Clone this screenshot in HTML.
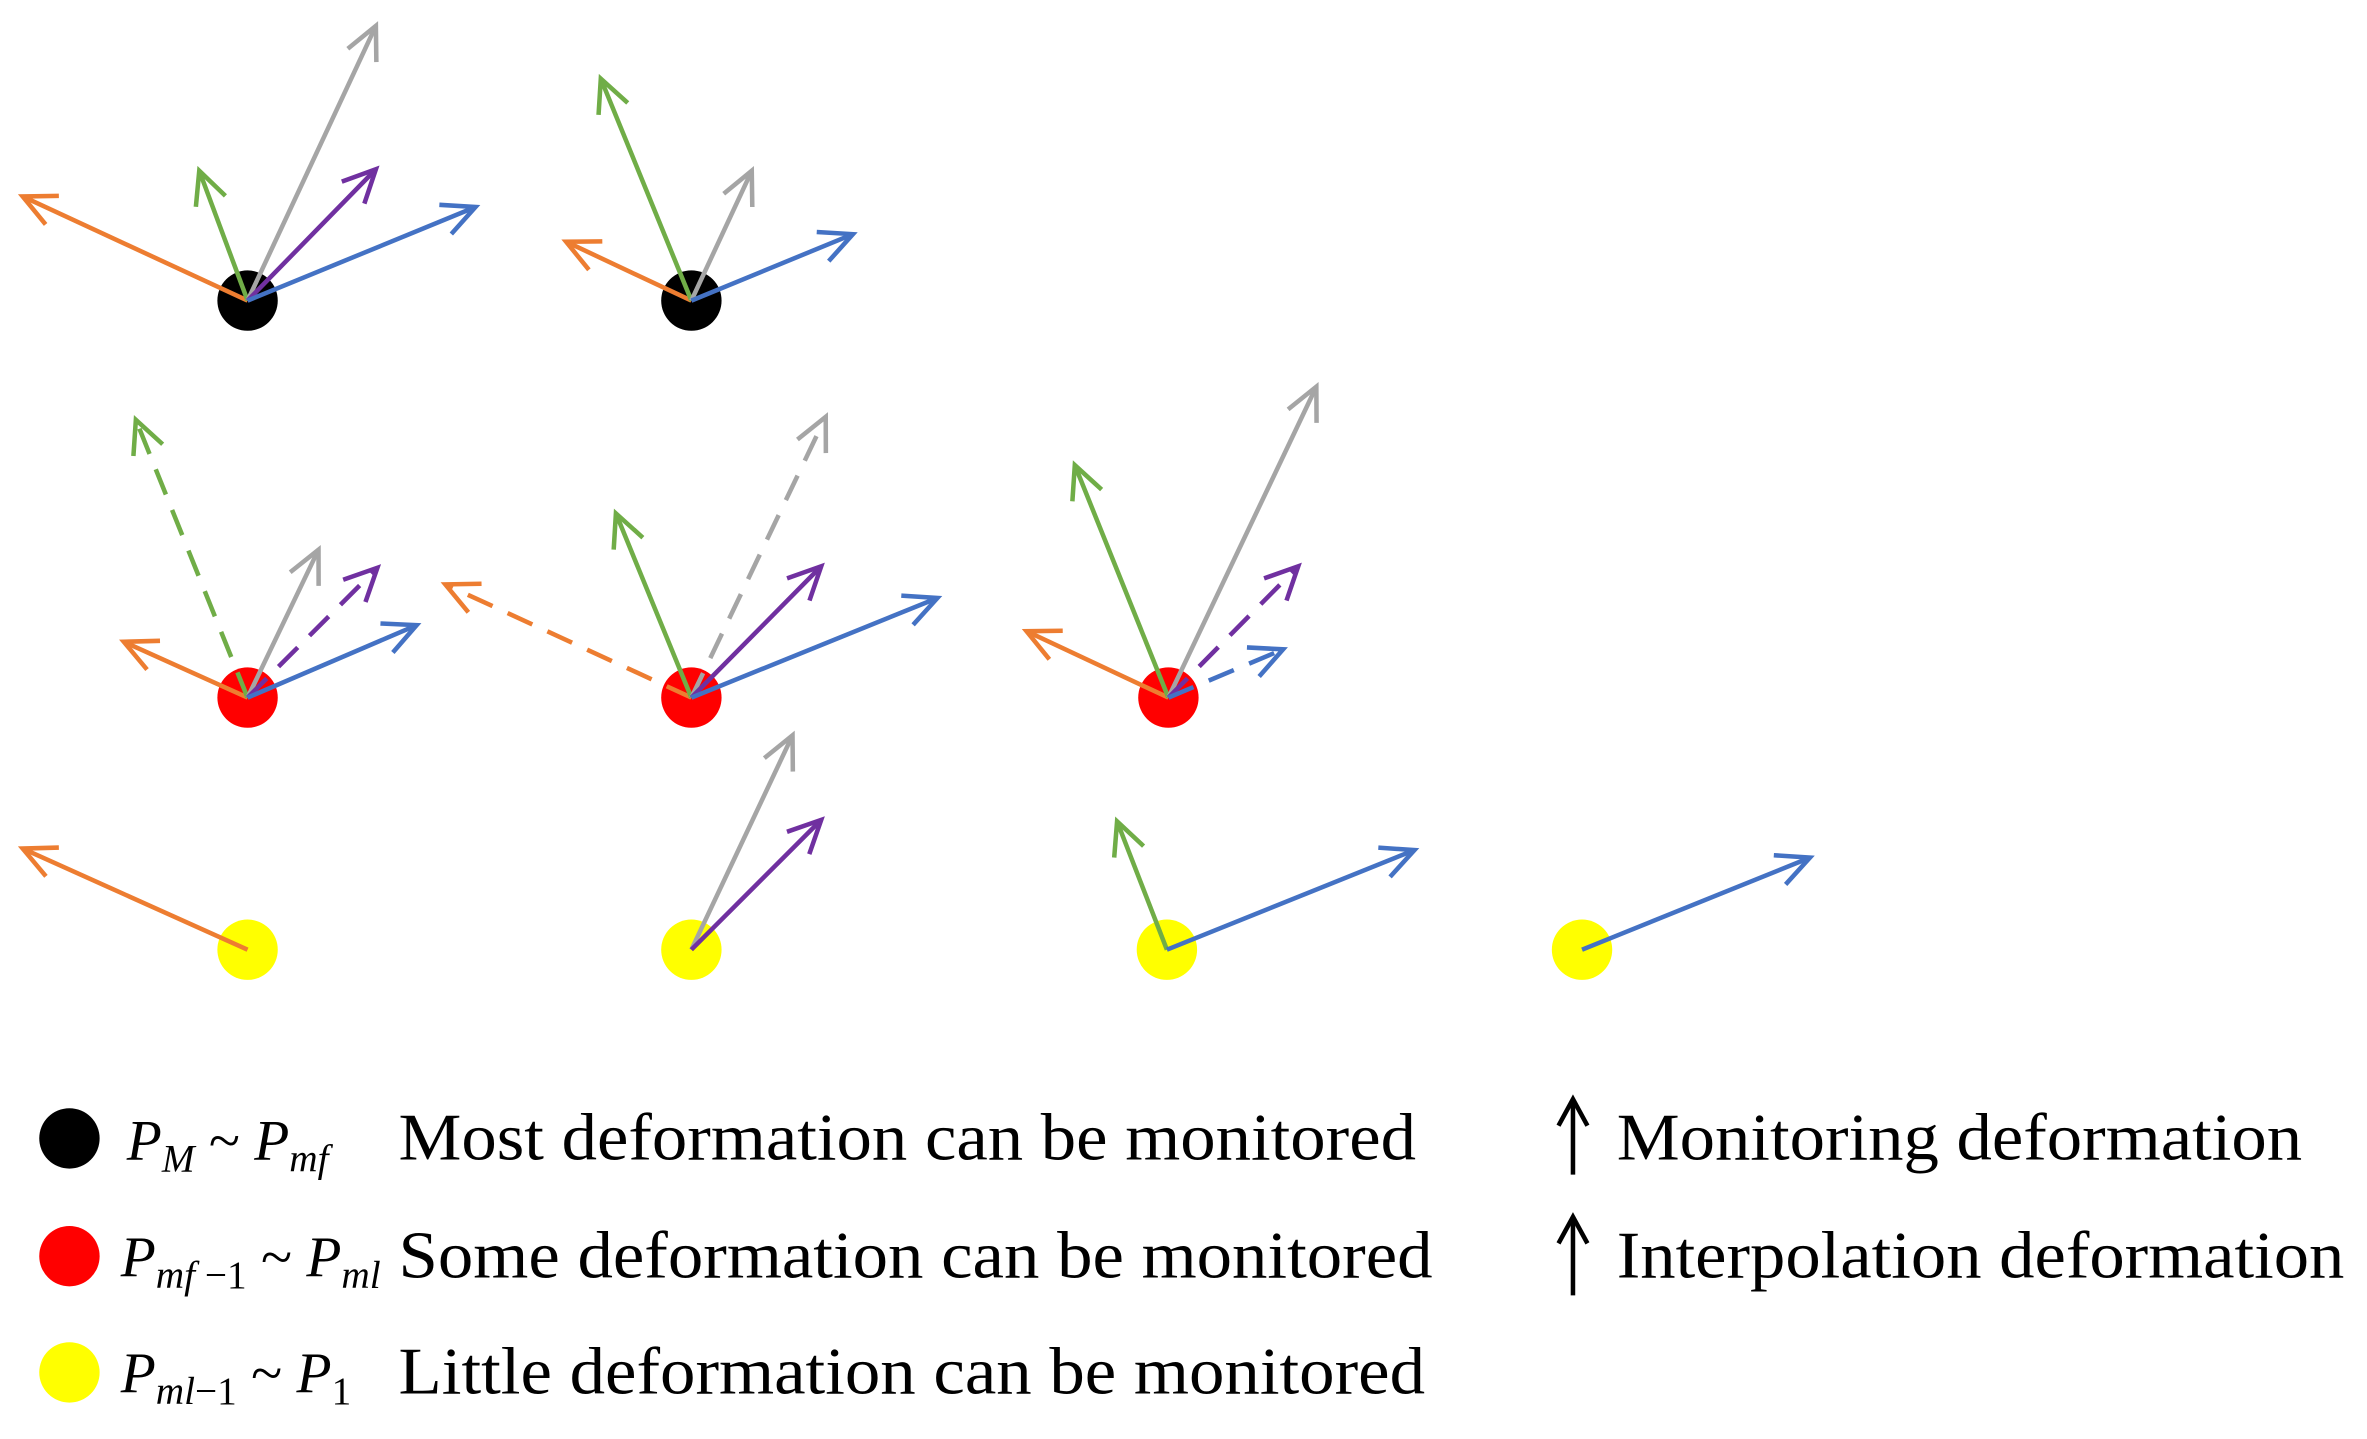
<!DOCTYPE html>
<html><head><meta charset="utf-8"><style>html,body{margin:0;padding:0;background:#fff}svg{display:block}</style></head>
<body>
<svg id="s" width="2367" height="1439" viewBox="0 0 1568 953" xmlns="http://www.w3.org/2000/svg" font-family="Liberation Serif, serif">
<circle cx="164" cy="199" r="20" fill="#000"/>
<circle cx="458" cy="199" r="20" fill="#000"/>
<circle cx="164" cy="462" r="20" fill="#f00"/>
<circle cx="458" cy="462" r="20" fill="#f00"/>
<circle cx="774" cy="462" r="20" fill="#f00"/>
<circle cx="164" cy="629" r="20" fill="#ff0"/>
<circle cx="458" cy="629" r="20" fill="#ff0"/>
<circle cx="773" cy="629" r="20" fill="#ff0"/>
<circle cx="1048" cy="629" r="20" fill="#ff0"/>
<g id="g"></g>
<circle cx="46" cy="754" r="20" fill="#000"/>
<circle cx="46" cy="832" r="20" fill="#f00"/>
<circle cx="46" cy="909" r="20" fill="#ff0"/>
<g font-size="38" font-style="italic">
<text x="84" y="768">P<tspan font-size="26" dy="8">M</tspan><tspan dy="-8" font-style="normal"> ~ </tspan>P<tspan font-size="26" dy="8">mf</tspan></text>
<text x="80" y="845">P<tspan font-size="26" dy="8">mf</tspan><tspan font-size="26" font-style="normal"> −1</tspan><tspan dy="-8" font-style="normal"> ~ </tspan>P<tspan font-size="26" dy="8">ml</tspan></text>
<text x="80" y="922">P<tspan font-size="26" dy="8">ml</tspan><tspan font-size="26" font-style="normal">−1</tspan><tspan dy="-8" font-style="normal"> ~ </tspan>P<tspan font-size="26" font-style="normal" dy="8">1</tspan></text>
</g>
<g font-size="44">
<text x="264" y="768" textLength="674" lengthAdjust="spacingAndGlyphs">Most deformation can be monitored</text>
<text x="264" y="846" textLength="685" lengthAdjust="spacingAndGlyphs">Some deformation can be monitored</text>
<text x="264" y="923" textLength="680" lengthAdjust="spacingAndGlyphs">Little deformation can be monitored</text>
<text x="1071" y="768" textLength="454" lengthAdjust="spacingAndGlyphs">Monitoring deformation</text>
<text x="1071" y="846" textLength="482" lengthAdjust="spacingAndGlyphs">Interpolation deformation</text>
</g>
</svg>
<script>
const C={o:"#ED7D31",g:"#70AD47",y:"#A5A5A5",p:"#7030A0",b:"#4472C4",k:"#000"};
const A=[
[164,199,15,130,"o"],[164,199,132,113,"g"],[164,199,249,17,"y"],[164,199,249,112,"p"],[164,199,315,137,"b"],
[458,199,375,160,"o"],[458,199,398,52,"g"],[458,199,498,113,"y"],[458,199,565,155,"b"],
[164,462,82,425,"o"],[164,462,90,278,"g",1],[164,462,211,364,"y"],[164,462,250,376,"p",1],[164,462,276,414,"b"],
[458,462,295,387,"o",1],[458,462,408,340,"g"],[458,462,547,276,"y",1],[458,462,544,375,"p"],[458,462,621,396,"b"],
[774,462,680,418,"o"],[774,462,712,308,"g"],[774,462,872,256,"y"],[774,462,860,375,"p",1],[774,462,850,430,"b",1],
[164,629,15,562,"o"],
[458,629,525,487,"y"],[458,629,544,543,"p"],
[773,629,740,544,"g"],[773,629,937,563,"b"],
[1048,629,1199,568,"b"],
[1042,778,1042,728,"k"],[1042,858,1042,806,"k"]
];
let h="";
for(const [x1,y1,x2,y2,c,d] of A){
 const col=C[c];const an=Math.atan2(y2-y1,x2-x1);const L=c=="k"?20:24,w=c=="k"?0.5:0.45;
 const ax=x2-L*Math.cos(an-w),ay=y2-L*Math.sin(an-w),bx=x2-L*Math.cos(an+w),by=y2-L*Math.sin(an+w);
 h+=`<line x1="${x1}" y1="${y1}" x2="${x2}" y2="${y2}" stroke="${col}" stroke-width="3" ${d?'stroke-dasharray="18 11"':''}/>`;
 h+=`<polyline points="${ax},${ay} ${x2},${y2} ${bx},${by}" fill="none" stroke="${col}" stroke-width="3"/>`;
}
document.getElementById("g").innerHTML=h;
</script>
</body></html>
